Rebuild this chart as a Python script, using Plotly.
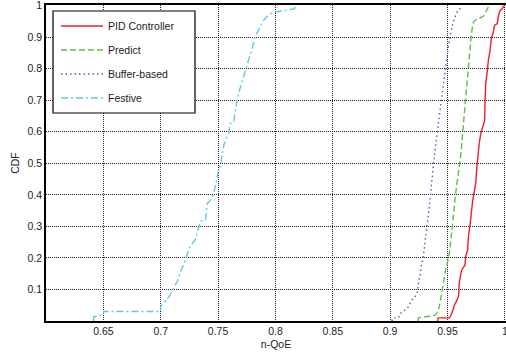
import plotly.graph_objects as go

# ---- data (n-QoE value, CDF) ----
pid_x = [0.9416, 0.9418, 0.9517, 0.9531, 0.9546, 0.956, 0.9583, 0.9597, 0.9603, 0.9612, 0.9623, 0.964,
         0.9652, 0.966, 0.9675, 0.9681, 0.969, 0.9698, 0.9703, 0.9718, 0.9733, 0.9747, 0.9755, 0.9767,
         0.9776, 0.979, 0.9804, 0.9824, 0.9828, 0.9833, 0.9848, 0.9856, 0.9871, 0.9882, 0.9899, 0.991,
         0.9934, 0.9942, 0.9957, 0.9977, 0.999]
pid_y = [0.0, 0.01, 0.01, 0.018, 0.034, 0.05, 0.066, 0.081, 0.124, 0.145, 0.161, 0.171,
         0.177, 0.208, 0.224, 0.261, 0.282, 0.303, 0.325, 0.377, 0.409, 0.44, 0.483, 0.53,
         0.562, 0.594, 0.615, 0.636, 0.70, 0.752, 0.795, 0.826, 0.858, 0.895, 0.916, 0.937,
         0.943, 0.964, 0.985, 0.99, 1.0]

pred_x = [0.9244, 0.9246, 0.9389, 0.9416, 0.9431, 0.9445, 0.9453, 0.9468, 0.9479, 0.9496, 0.9508,
          0.9522, 0.9531, 0.954, 0.9546, 0.956, 0.9569, 0.958, 0.9589, 0.9603, 0.9617, 0.9626,
          0.9638, 0.9647, 0.9656, 0.9669, 0.9681, 0.969, 0.9703, 0.9712, 0.9727, 0.9755, 0.9804,
          0.9819, 0.9833, 0.9856, 0.9862]
pred_y = [0.0, 0.01, 0.018, 0.029, 0.05, 0.076, 0.103, 0.129, 0.155, 0.177, 0.198,
          0.229, 0.261, 0.293, 0.335, 0.367, 0.398, 0.43, 0.462, 0.49, 0.53, 0.573,
          0.626, 0.668, 0.70, 0.752, 0.795, 0.848, 0.89, 0.921, 0.948, 0.958, 0.964,
          0.969, 0.979, 0.995, 1.0]

buf_x = [0.9014, 0.9028, 0.9072, 0.9086, 0.9158, 0.9186, 0.9216, 0.9235, 0.925, 0.9264, 0.9272,
         0.9287, 0.9296, 0.9307, 0.9316, 0.9324, 0.933, 0.9345, 0.9353, 0.9359, 0.9367, 0.9376,
         0.9388, 0.9402, 0.9416, 0.9431, 0.9445, 0.946, 0.9474, 0.9488, 0.9503, 0.9517, 0.9531,
         0.9546, 0.9566, 0.9583, 0.9603, 0.9617, 0.9625]
buf_y = [0.0, 0.01, 0.01, 0.023, 0.044, 0.066, 0.076, 0.087, 0.129, 0.15, 0.177,
         0.198, 0.224, 0.256, 0.282, 0.303, 0.335, 0.367, 0.398, 0.43, 0.462, 0.49,
         0.53, 0.573, 0.615, 0.657, 0.70, 0.742, 0.784, 0.826, 0.858, 0.89, 0.921,
         0.943, 0.964, 0.979, 0.987, 0.995, 1.0]

fest_x = [0.6414, 0.6416, 0.65, 0.6502, 0.7, 0.7, 0.7028, 0.7074, 0.7117, 0.715, 0.7175, 0.7204,
          0.7233, 0.726, 0.730, 0.733, 0.7347, 0.739, 0.7405, 0.7434, 0.7462, 0.7477, 0.7505,
          0.7526, 0.7534, 0.7554, 0.7591, 0.7606, 0.7634, 0.7649, 0.7664, 0.7686, 0.772, 0.7744,
          0.7764, 0.7793, 0.7822, 0.785, 0.7888, 0.7908, 0.795, 0.7994, 0.8166, 0.8176]
fest_y = [0.0, 0.013, 0.02, 0.03, 0.03, 0.047, 0.057, 0.078, 0.108, 0.129, 0.16, 0.182,
          0.214, 0.24, 0.256, 0.293, 0.317, 0.321, 0.372, 0.383, 0.404, 0.43, 0.478,
          0.499, 0.53, 0.562, 0.594, 0.626, 0.631, 0.662, 0.70, 0.731, 0.768, 0.80,
          0.826, 0.858, 0.90, 0.921, 0.948, 0.958, 0.974, 0.979, 0.99, 1.0]

series_names = ["PID Controller", "Predict", "Buffer-based", "Festive"]
x_ticks = [0.65, 0.7, 0.75, 0.8, 0.85, 0.9, 0.95, 1.0]
x_tick_text = ["0.65", "0.7", "0.75", "0.8", "0.85", "0.9", "0.95", "1"]
y_ticks = [0.1, 0.2, 0.3, 0.4, 0.5, 0.6, 0.7, 0.8, 0.9, 1.0]
y_tick_text = ["0.1", "0.2", "0.3", "0.4", "0.5", "0.6", "0.7", "0.8", "0.9", "1"]

FONT = "Liberation Sans, Arial, sans-serif"

styles = [
    dict(color="#e8202a", dash="solid"),
    dict(color="#66bb44", dash="6px,3px"),
    dict(color="#4a62b4", dash="1.5px,3px"),
    dict(color="#5ccbe0", dash="7px,3px,2px,3px"),
]
data = [(pid_x, pid_y), (pred_x, pred_y), (buf_x, buf_y), (fest_x, fest_y)]

fig = go.Figure()
for i, ((xs, ys), name, st) in enumerate(zip(data, series_names, styles)):
    fig.add_trace(go.Scatter(
        x=xs, y=ys, mode="lines", name=name, legendgroup=f"g{i}",
        line=dict(color=st["color"], dash=st["dash"], width=1.4),
    ))

fig.add_shape(type="rect", xref="paper", yref="paper",
              x0=(53 - 46) / 460, x1=(195 - 46) / 460,
              y0=(321 - 113) / 316, y1=(321 - 11) / 316,
              line=dict(color="black", width=1.2), fillcolor="white", layer="above")

fig.update_layout(
    width=506, height=353,
    margin=dict(l=46, r=0, t=5, b=32),
    paper_bgcolor="white", plot_bgcolor="white",
    font=dict(family=FONT, size=10.5, color="#222"),
    showlegend=True,
    legend=dict(x=(56 - 46) / 460, y=(321 - 11.5) / 316, xanchor="left", yanchor="top",
                bgcolor="rgba(0,0,0,0)", borderwidth=0, tracegroupgap=5,
                itemwidth=42, font=dict(family=FONT, size=10.5, color="#222")),
    xaxis=dict(range=[0.6, 1.001], tickvals=x_ticks, ticktext=x_tick_text,
               showgrid=True, gridcolor="#222", griddash="1px,1px", gridwidth=1,
               showline=True, mirror=True, linecolor="black", linewidth=1.5,
               zeroline=False, ticks="", automargin=False, ticklabeloverflow="allow",
               title=dict(text="n-QoE", standoff=4, font=dict(size=10.5))),
    yaxis=dict(range=[0, 1.002], tickvals=y_ticks, ticktext=y_tick_text,
               showgrid=True, gridcolor="#222", griddash="1px,1px", gridwidth=1,
               showline=True, mirror=True, linecolor="black", linewidth=1.5,
               zeroline=False, ticks="", automargin=False, ticklabeloverflow="allow",
               title=dict(text="CDF", standoff=6, font=dict(size=10.5))),
)

fig.write_html("out.html", config={"displayModeBar": False},
               post_script="document.body.style.margin='0';document.body.style.overflow='hidden';")
